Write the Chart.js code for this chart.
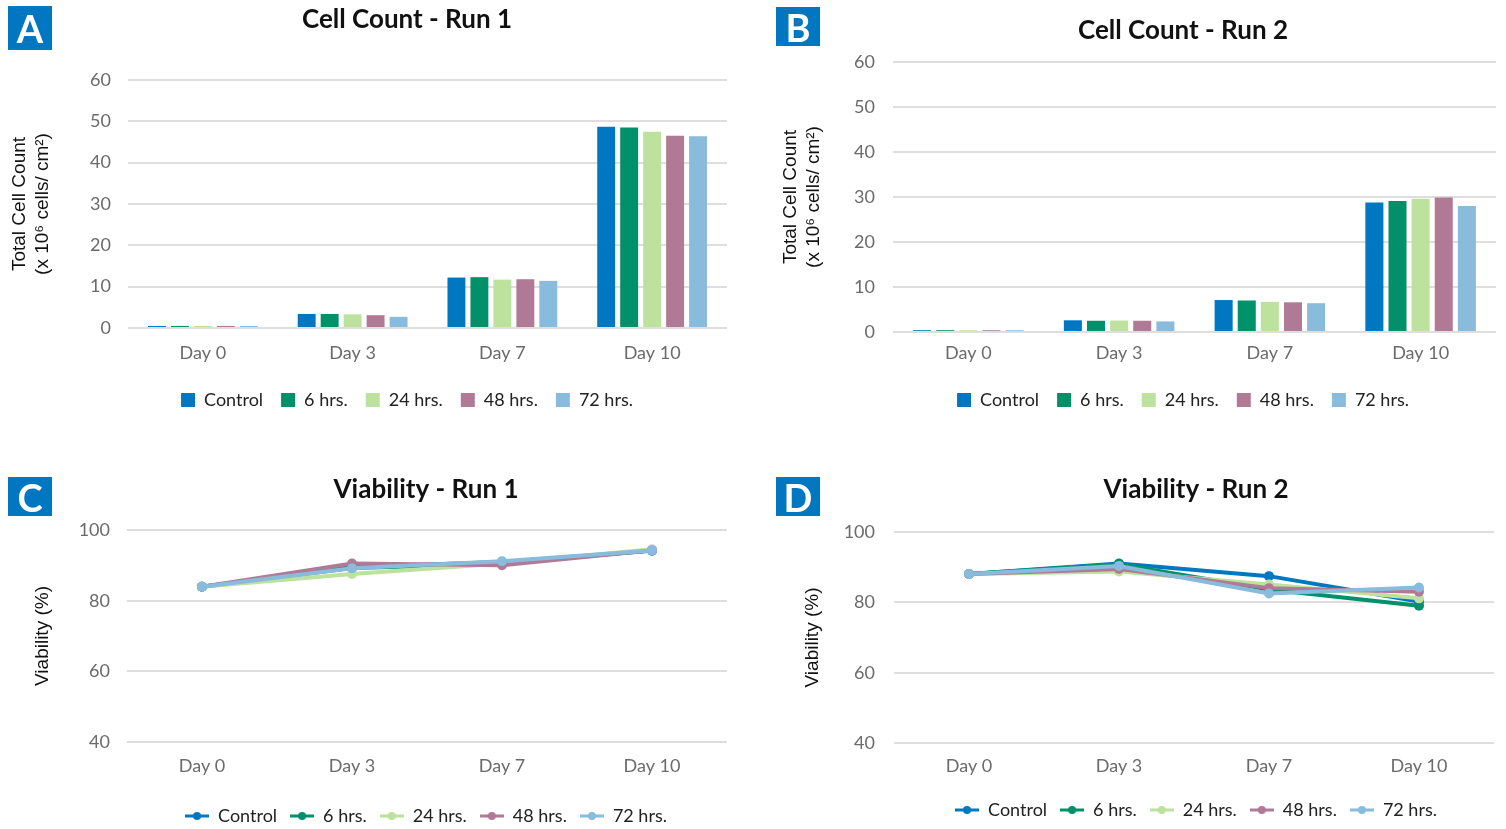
<!DOCTYPE html>
<html>
<head>
<meta charset="utf-8">
<script src="https://cdn.jsdelivr.net/npm/chart.js@4.4.1/dist/chart.umd.min.js"></script>
<style>
  html, body { margin: 0; padding: 0; background: #fff; overflow: hidden; }
  #page { position: relative; width: 1506px; height: 829px; overflow: hidden; }
  #page canvas { position: absolute; }
  .badge {
    position: absolute; width: 44px; background: #0077c0; color: #fff;
    font: bold 38px Lato, 'Open Sans', sans-serif;
    display: flex; align-items: center; justify-content: center;
  }
</style>
</head>
<body>
<div id="page">
  <canvas id="chartA"></canvas>
  <canvas id="chartB"></canvas>
  <canvas id="chartC"></canvas>
  <canvas id="chartD"></canvas>
  <div class="badge" style="left:8px;top:6px;height:44px;">A</div>
  <div class="badge" style="left:776px;top:7px;height:39px;">B</div>
  <div class="badge" style="left:8px;top:477px;height:39px;">C</div>
  <div class="badge" style="left:776px;top:477px;height:39px;">D</div>
</div>
<script>
const days = ['Day 0', 'Day 3', 'Day 7', 'Day 10'];
const groups = ['Control', '6 hrs.', '24 hrs.', '48 hrs.', '72 hrs.'];
const groupColors = ['#0078c1', '#00906a', '#bce29e', '#b07a96', '#88bbdc'];

// cell count, x 10^6 cells / cm2 (one array per group, Day 0 .. Day 10)
const countRun1Control = [0.5, 3.4, 12.2, 48.7];
const countRun1H6 = [0.5, 3.4, 12.3, 48.5];
const countRun1H24 = [0.5, 3.3, 11.7, 47.5];
const countRun1H48 = [0.5, 3.1, 11.8, 46.5];
const countRun1H72 = [0.5, 2.7, 11.4, 46.4];

const countRun2Control = [0.4, 2.6, 7.1, 28.8];
const countRun2H6 = [0.4, 2.5, 7.0, 29.1];
const countRun2H24 = [0.4, 2.55, 6.7, 29.6];
const countRun2H48 = [0.4, 2.5, 6.6, 29.9];
const countRun2H72 = [0.4, 2.35, 6.4, 28.0];

// viability, %
const viabRun1Control = [84.0, 89.6, 91.0, 94.2];
const viabRun1H6 = [84.0, 89.3, 90.4, 94.3];
const viabRun1H24 = [84.0, 87.6, 90.6, 94.6];
const viabRun1H48 = [84.0, 90.6, 90.1, 94.3];
const viabRun1H72 = [84.0, 89.2, 91.2, 94.3];

const viabRun2Control = [88.0, 91.0, 87.4, 80.2];
const viabRun2H6 = [88.0, 90.8, 83.6, 79.0];
const viabRun2H24 = [88.0, 88.7, 85.0, 81.1];
const viabRun2H48 = [88.0, 89.4, 84.0, 83.0];
const viabRun2H72 = [88.0, 90.3, 82.5, 84.2];

const countTicks = { min: 0, max: 60, step: 10 };
const viabTicks = { min: 40, max: 100, step: 20 };

const FONT = "Lato, 'Open Sans', sans-serif";
const AXIS_FONT = "'Liberation Sans', Arial, sans-serif";
const GRID = '#dedede';

/**
 * legend marker for the line charts: short line with a dot in the middle
 */
function lineMarker(color) {
  const c = document.createElement('canvas');
  c.width = 24;
  c.height = 10;
  const ctx = c.getContext('2d');
  ctx.strokeStyle = color;
  ctx.lineWidth = 3;
  ctx.beginPath();
  ctx.moveTo(0, 5);
  ctx.lineTo(24, 5);
  ctx.stroke();
  ctx.fillStyle = color;
  ctx.beginPath();
  ctx.arc(12, 5, 4, 0, Math.PI * 2);
  ctx.fill();
  return c;
}
const markers = groupColors.map(lineMarker);

function makeChart(id, box, type, title, yTitle, yRange, series) {
  const canvas = document.getElementById(id);
  canvas.width = box.w;
  canvas.height = box.h;
  canvas.style.left = box.left + 'px';
  canvas.style.top = box.top + 'px';

  const isLine = type === 'line';

  const datasets = series.map((values, i) => ({
    label: groups[i],
    data: values,
    backgroundColor: groupColors[i],
    borderColor: groupColors[i],
    ...(isLine
      ? { borderWidth: 4, pointRadius: 5, pointHoverRadius: 5, pointBorderWidth: 0, tension: 0, order: series.length - i }
      : { borderWidth: 0, categoryPercentage: 0.767, barPercentage: 0.78 }),
  }));

  const legendLabels = {
    color: '#222',
    font: { family: FONT, size: 18 },
    padding: isLine ? 13 : 18,
    boxWidth: 14,
    boxHeight: 14,
    sort: (a, b) => a.datasetIndex - b.datasetIndex,
  };
  if (isLine) {
    legendLabels.usePointStyle = true;
    legendLabels.pointStyleWidth = 24;
    legendLabels.generateLabels = chart =>
      Chart.defaults.plugins.legend.labels.generateLabels(chart).map(item => ({
        ...item,
        pointStyle: markers[item.datasetIndex],
      }));
  }

  return new Chart(canvas, {
    type,
    data: { labels: days, datasets },
    options: {
      responsive: false,
      animation: false,
      devicePixelRatio: 1,
      layout: { padding: 0 },
      plugins: {
        tooltip: { enabled: false },
        title: {
          display: true,
          text: title,
          color: '#111',
          font: { family: FONT, size: 26, weight: 'bold', lineHeight: 1.2 },
          padding: { top: box.titlePad[0], bottom: box.titlePad[1] },
        },
        legend: { position: 'bottom', labels: legendLabels },
      },
      scales: {
        x: {
          offset: true,
          grid: { display: false, drawTicks: false },
          border: { display: false },
          ticks: { color: '#6b6b6b', font: { family: FONT, size: 18 }, padding: box.xPad },
          afterFit: s => { s.height = box.xH; },
        },
        y: {
          min: yRange.min,
          max: yRange.max,
          grid: { color: GRID, lineWidth: 2, drawTicks: false },
          border: { display: false },
          ticks: { stepSize: yRange.step, color: '#6b6b6b', font: { family: FONT, size: 18 }, padding: box.yPad },
          title: {
            display: true,
            text: yTitle,
            color: '#111',
            font: { family: AXIS_FONT, size: 19, lineHeight: 1.2 },
            padding: { top: box.yTitlePad, bottom: 0 },
          },
          afterFit: s => { s.width = box.yW; },
        },
        // empty right axis, only reserves room so title and legend stay centred like the original
        spacer: {
          type: 'linear',
          position: 'right',
          display: true,
          grid: { display: false, drawTicks: false },
          border: { display: false },
          ticks: { display: false },
          afterFit: s => { s.width = box.rW; },
        },
      },
    },
  });
}

const countTitle = ['Total Cell Count', '(x 10\u2076 cells/ cm\u00B2)'];
const viabTitle = 'Viability (%)';

makeChart('chartA',
  { left: 0, top: 0, w: 814, h: 419, yW: 128, rW: 87, titlePad: [4.4, 44.4], xH: 45, xPad: 14.2, yPad: 17, yTitlePad: 8.6 },
  'bar', 'Cell Count - Run 1', countTitle, countTicks,
  [countRun1Control, countRun1H6, countRun1H24, countRun1H48, countRun1H72]);

makeChart('chartB',
  { left: 770, top: 0, w: 826, h: 419, yW: 123, rW: 100, titlePad: [15.4, 15.4], xH: 41, xPad: 10.2, yPad: 18, yTitlePad: 9.3 },
  'bar', 'Cell Count - Run 2', countTitle, countTicks,
  [countRun2Control, countRun2H6, countRun2H24, countRun2H48, countRun2H72]);

makeChart('chartC',
  { left: 0, top: 460, w: 852, h: 375, yW: 127, rW: 125, titlePad: [14.4, 24.7], xH: 52.3, xPad: 13.5, yPad: 17, yTitlePad: 31.6 },
  'line', 'Viability - Run 1', viabTitle, viabTicks,
  [viabRun1Control, viabRun1H6, viabRun1H24, viabRun1H48, viabRun1H72]);

makeChart('chartD',
  { left: 770, top: 460, w: 852, h: 369, yW: 124, rW: 128, titlePad: [14.4, 26.1], xH: 44.7, xPad: 11.9, yPad: 19, yTitlePad: 31.6 },
  'line', 'Viability - Run 2', viabTitle, viabTicks,
  [viabRun2Control, viabRun2H6, viabRun2H24, viabRun2H48, viabRun2H72]);
</script>
</body>
</html>
